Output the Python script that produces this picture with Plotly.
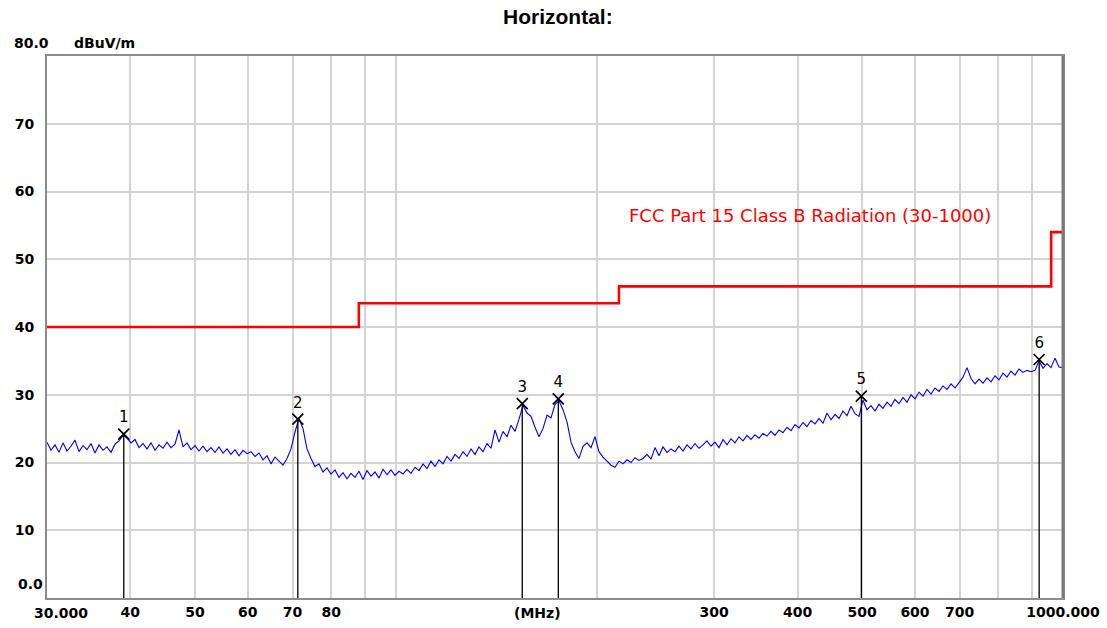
import numpy as np
import plotly.graph_objects as go

# ---- data ----
f_start, f_stop = 30.0, 1000.0
levels = [
    23.0, 21.8, 22.6, 21.5, 22.9, 21.7, 22.4, 23.3, 21.6, 22.5,
    21.9, 22.8, 21.4, 22.6, 21.8, 22.3, 21.5, 22.7, 23.2, 24.0,
    23.6, 22.9, 23.4, 22.2, 22.8, 22.0, 22.9, 21.8, 22.6, 22.1,
    23.0, 22.2, 22.7, 24.8, 22.3, 22.9, 21.9, 22.5, 21.7, 22.4,
    21.6, 22.2, 21.5, 22.3, 21.4, 22.0, 21.2, 21.9, 21.0, 21.8,
    21.3, 21.6, 20.9, 21.4, 20.4, 21.0, 19.8, 20.8, 20.2, 19.6,
    20.6, 22.0, 24.5, 26.5, 25.0, 22.0, 20.6, 19.4, 19.8, 18.6,
    19.2, 18.3, 18.9, 17.8, 18.5, 17.6, 18.4, 17.8, 18.7, 17.5,
    18.8, 18.0, 18.6, 17.7, 19.0, 18.2, 18.9, 18.1, 18.7, 18.3,
    19.0, 18.4, 19.3, 18.8, 19.8, 19.1, 20.2, 19.4, 20.4, 19.8,
    20.9, 20.2, 21.2, 20.6, 21.6, 20.9, 22.0, 21.2, 22.3, 21.6,
    22.8, 22.1, 24.8, 23.0, 24.6, 23.8, 25.5, 24.6, 26.4, 28.4,
    27.3, 26.8, 25.2, 23.8, 25.0, 27.0, 26.6, 28.6, 29.1, 27.8,
    26.0, 23.0, 21.6, 20.6, 22.4, 22.9, 22.2, 23.8, 21.6, 20.8,
    20.2, 19.6, 19.3, 20.2, 19.8, 20.4, 20.0, 20.7, 20.3, 20.6,
    21.2, 20.5, 22.2, 21.0, 22.3, 21.5, 22.0, 21.6, 22.4, 21.7,
    22.6, 22.0, 22.8, 22.1, 22.6, 23.2, 22.4, 23.0, 22.2, 23.4,
    22.6, 23.5, 22.9, 23.8, 23.2, 24.0, 23.4, 24.1, 23.6, 24.3,
    23.9, 24.6, 24.0, 24.8, 24.4, 25.2, 24.7, 25.6, 25.1, 25.9,
    25.3, 26.2, 25.7, 26.5, 25.8, 27.3, 26.3, 27.1, 26.5, 27.6,
    26.9, 28.3, 27.2, 26.8, 29.2, 27.8, 28.4, 27.6, 28.6, 28.0,
    28.9, 28.3, 29.3, 28.7, 29.6, 28.9, 30.0, 29.4, 30.4, 29.8,
    30.8, 30.1, 31.0, 30.5, 31.3, 30.8, 31.6, 31.0, 31.8, 32.6,
    34.0, 32.4, 31.6, 32.3, 31.7, 32.5, 31.9, 32.8, 32.2, 33.2,
    32.6, 33.5, 32.9, 33.8, 33.3, 33.6, 33.4, 33.6, 35.0, 33.9,
    34.6, 34.0, 35.4, 34.1, 34.0,
]
sweep_freq = np.geomspace(f_start, f_stop, len(levels))

limit_freq = [30, 88, 216, 960, 1000]
limit_level = [40, 43.5, 46, 54, 54]
limit_name = "FCC Part 15 Class B Radiation (30-1000)"

marker_no = ["1", "2", "3", "4", "5", "6"]
marker_freq = [39.1, 71.3, 154.7, 175.2, 498.6, 921.0]
marker_level = [24.2, 26.4, 28.7, 29.4, 29.8, 35.2]

x_grid = [30, 40, 50, 60, 70, 80, 90, 100, 200, 300, 400, 500, 600, 700, 800, 900, 1000]
x_text = ["", "40", "50", "60", "70", "80", "", "", "", "300", "400", "500", "600", "700", "", "", "1000.000"]
y_grid = [0, 10, 20, 30, 40, 50, 60, 70, 80]
y_text = ["", "10", "20", "30", "40", "50", "60", "70", ""]

# ---- figure ----
W, H = 1107, 628
L, R, T, B = 47, 44, 56, 30
pw, ph = W - L - R, H - T - B

fig = go.Figure()

fig.add_trace(go.Scatter(x=sweep_freq, y=levels, mode="lines",
                         line=dict(color="#0000ff", width=1.1), hoverinfo="skip"))

fig.add_trace(go.Scatter(x=limit_freq, y=limit_level, mode="lines",
                         line=dict(color="#ff0000", width=2.6, shape="hv"), hoverinfo="skip"))

vx, vy = [], []
for f, v in zip(marker_freq, marker_level):
    vx += [f, f, None]
    vy += [0, v, None]
fig.add_trace(go.Scatter(x=vx, y=vy, mode="lines",
                         line=dict(color="#000000", width=1.3), hoverinfo="skip"))

fig.add_trace(go.Scatter(x=marker_freq, y=marker_level, mode="markers+text",
                         text=marker_no, textposition="top center",
                         textfont=dict(family="DejaVu Sans", size=15, color="#000000"),
                         marker=dict(symbol="x-thin-open", size=11, color="#000000",
                                     line=dict(color="#000000", width=1.7)),
                         hoverinfo="skip"))

tick_font = dict(family="DejaVu Sans", size=14, color="#000000", weight="bold")

fig.update_xaxes(type="log", range=[np.log10(f_start), np.log10(f_stop)],
                 tickvals=x_grid, ticktext=x_text, tickfont=tick_font,
                 showgrid=True, gridcolor="#d4d4d4", gridwidth=1.5,
                 showline=True, linecolor="#8c8c8c", linewidth=2, mirror=True,
                 zeroline=False, ticks="", automargin=False)
fig.update_yaxes(range=[0, 80], tickvals=y_grid, ticktext=y_text, tickfont=tick_font,
                 showgrid=True, gridcolor="#d4d4d4", gridwidth=1.5,
                 showline=True, linecolor="#8c8c8c", linewidth=2, mirror=True,
                 zeroline=False, ticks="", ticklabelstandoff=8, automargin=False)

def px_x(p):
    return (p - L) / pw

def px_y(p):
    return (H - B - p) / ph

ann = [
    dict(text="<b>Horizontal:</b>", x=px_x(558), y=px_y(17), xref="paper", yref="paper",
         xanchor="center", yanchor="middle", showarrow=False,
         font=dict(family="Liberation Sans", size=21, color="#000000")),
    dict(text="80.0", x=px_x(31), y=px_y(43), xref="paper", yref="paper",
         xanchor="center", yanchor="middle", showarrow=False, font=tick_font),
    dict(text="dBuV/m", x=px_x(72), y=px_y(43), xref="paper", yref="paper",
         xanchor="left", yanchor="middle", showarrow=False, font=tick_font),
    dict(text="0.0", x=px_x(30), y=px_y(584), xref="paper", yref="paper",
         xanchor="center", yanchor="middle", showarrow=False, font=tick_font),
    dict(text="30.000", x=np.log10(f_start), xshift=14, y=px_y(613), xref="x", yref="paper",
         xanchor="center", yanchor="middle", showarrow=False, font=tick_font),
    dict(text="(MHz)", x=np.log10(163), y=px_y(613), xref="x", yref="paper",
         xanchor="center", yanchor="middle", showarrow=False, font=tick_font),
    dict(text=limit_name, x=np.log10(222), y=56.5, xref="x", yref="y",
         xanchor="left", yanchor="middle", showarrow=False,
         font=dict(family="DejaVu Sans", size=18, color="#ff0000")),
]

fig.add_shape(type="line", xref="paper", yref="paper", x0=1, x1=1, y0=0, y1=1,
              line=dict(color="#7a7a7a", width=3))

fig.update_layout(width=W, height=H, margin=dict(l=L, r=R, t=T, b=B),
                  paper_bgcolor="#ffffff", plot_bgcolor="#ffffff",
                  showlegend=False, annotations=ann)

fig.write_html("out.html", config={"displayModeBar": False},
               post_script="document.body.style.margin='0';document.body.style.overflow='hidden';")
